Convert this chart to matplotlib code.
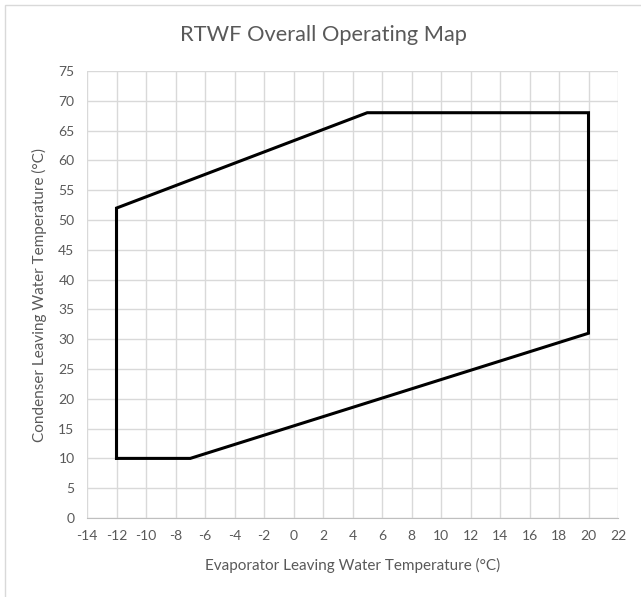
import matplotlib.pyplot as plt
import numpy as np
from matplotlib.patches import Rectangle

# Operating envelope (evaporator LWT, condenser LWT)
evap_lwt = [-12, -12, 5, 20, 20, -7, -12]
cond_lwt = [10, 52, 68, 68, 31, 10, 10]

x_ticks = np.arange(-14, 23, 2)
y_ticks = np.arange(0, 76, 5)

plt.rcParams['font.family'] = ['Lato', 'DejaVu Sans']
plt.rcParams['axes.unicode_minus'] = False
text_col = '#595959'
grid_col = '#d9d9d9'

fig = plt.figure(figsize=(6.41, 5.97), dpi=100)
ax = fig.add_axes([87 / 641, 1 - 518 / 597, (618 - 87) / 641, (518 - 71) / 597])

ax.plot(evap_lwt, cond_lwt, color='black', linewidth=2.2, solid_joinstyle='miter')

ax.set_xlim(-14, 22)
ax.set_ylim(0, 75)
ax.set_xticks(x_ticks)
ax.set_yticks(y_ticks)
ax.tick_params(length=0, labelsize=10, colors=text_col, pad=9)
ax.grid(True, color=grid_col, linewidth=1)
ax.set_axisbelow(True)
for side in ['top', 'right', 'left']:
    ax.spines[side].set_visible(False)
ax.spines['bottom'].set_color('#bfbfbf')

ax.set_xlabel('Evaporator Leaving Water Temperature (°C)', fontsize=11, color=text_col, labelpad=11)
ax.set_ylabel('Condenser Leaving Water Temperature (°C)', fontsize=11, color=text_col, labelpad=8)
fig.suptitle('RTWF Overall Operating Map', x=0.505, y=1 - 35 / 597, va='center',
             fontsize=15.7, color=text_col)

# chart border
fig.patches.append(Rectangle((5 / 641, -0.1), 1.2, 1 - 5 / 597 + 0.1, transform=fig.transFigure,
                             fill=False, edgecolor='#d9d9d9', linewidth=1))

fig.savefig('out.png', dpi=100)
